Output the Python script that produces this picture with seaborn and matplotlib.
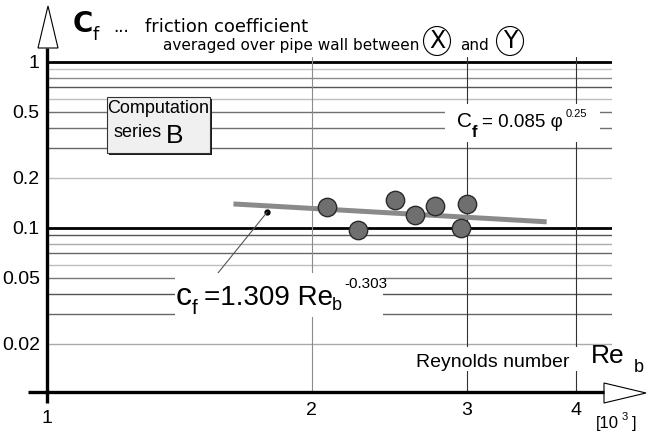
import matplotlib
matplotlib.use("Agg")
import matplotlib.pyplot as plt
import seaborn as sns
import numpy as np
import pandas as pd
from matplotlib.patches import Polygon, Rectangle, Ellipse

# ---------------- data ----------------
re_b = [2.08, 2.26, 2.49, 2.62, 2.76, 3.00, 2.96]          # Re_b [10^3]
cf = [0.134, 0.097, 0.146, 0.119, 0.135, 0.138, 0.100]      # friction coefficient
fit_re = [1.63, 3.70]                                        # fitted line end points
fit_cf = [0.139, 0.1085]
dot_re = [1.78]
dot_cf = [0.124]
ytick_vals = [1, 0.5, 0.2, 0.1, 0.05, 0.02]
ytick_labels = ["1", "0.5", "0.2", "0.1", "0.05", "0.02"]
xtick_vals = [1, 2, 3, 4]
xtick_labels = ["1", "2", "3", "4"]
grid_levels = [1, 0.9, 0.8, 0.7, 0.6, 0.5, 0.4, 0.3, 0.2,
               0.1, 0.09, 0.08, 0.07, 0.06, 0.05, 0.04, 0.03, 0.02]
grid_colors = ["#000000", "#c4c4c4", "#8a8a8a", "#555555", "#bdbdbd", "#707070",
               "#707070", "#666666", "#bdbdbd",
               "#000000", "#555555", "#ababab", "#666666", "#bdbdbd", "#777777",
               "#555555", "#666666", "#aaaaaa"]
vgrid_vals = [2, 3, 4]
vgrid_colors = ["#8c8c8c", "#333333", "#333333"]

df = pd.DataFrame({"Re": re_b, "cf": cf})
fit_df = pd.DataFrame({"Re": fit_re, "cf": fit_cf})

sns.set_style("white")
plt.rcParams["font.family"] = ["Liberation Sans", "DejaVu Sans"]

W, H = 663, 433
fig = plt.figure(figsize=(W / 100, H / 100), dpi=100)
fig.patch.set_facecolor("white")

x0, x1, y0, y1 = 46.8, 612, 57, 392
ax = fig.add_axes([x0 / W, 1 - y1 / H, (x1 - x0) / W, (y1 - y0) / H])
ax.set_xscale("log")
ax.set_yscale("log")
ax.set_xlim(1, 4.39)
ax.set_ylim(0.01024, 1.067)
for s in ax.spines.values():
    s.set_visible(False)
ax.minorticks_off()

# grid lines
for lev, col in zip(grid_levels, grid_colors):
    lw = 2.0 if col == "#000000" else 1.0
    ax.axhline(lev, color=col, lw=lw, zorder=1)
for v, col in zip(vgrid_vals, vgrid_colors):
    ax.axvline(v, color=col, lw=0.8, zorder=1)

# fitted line and data points
sns.lineplot(data=fit_df, x="Re", y="cf", ax=ax, color="#8a8a8a", lw=3.6,
             solid_capstyle="butt", zorder=3)
sns.scatterplot(data=df, x="Re", y="cf", ax=ax, s=175, color="#6f6f6f",
                edgecolor="#2a2a2a", linewidth=1.0, zorder=5)
ax.plot(dot_re, dot_cf, marker="o", ms=3.5, color="black", ls="none", zorder=6)
# leader line from label to dot
ax.plot([1.565, dot_re[0]], [0.0533, dot_cf[0]], color="#555555", lw=0.8, zorder=6)

ax.set_xlabel("")
ax.set_ylabel("")
ax.set_yticks(ytick_vals, labels=ytick_labels)
ax.set_xticks(xtick_vals, labels=xtick_labels)
ax.tick_params(axis="both", length=0, labelsize=14, colors="black")
ax.tick_params(axis="y", pad=5)
ax.tick_params(axis="x", pad=7)
ax.xaxis.get_major_ticks()[0].set_pad(13)

# ---------------- overlay in pixel coordinates ----------------
ov = fig.add_axes([0, 0, 1, 1], zorder=10)
ov.set_xlim(0, W)
ov.set_ylim(H, 0)
ov.axis("off")
ov.patch.set_alpha(0)

# axes with arrows
ov.plot([46.8, 46.8], [403, 48], color="black", lw=2.4, solid_capstyle="butt")
ov.add_patch(Polygon([[38, 48], [58, 48], [48, 6]], closed=True, fc="white", ec="black", lw=0.8))
ov.plot([28, 604], [392, 392], color="black", lw=2.4, solid_capstyle="butt")
ov.add_patch(Polygon([[604, 383], [604, 403], [646, 393]], closed=True, fc="white", ec="black", lw=0.8))

def t(x, y, s, size, **kw):
    kw.setdefault("va", "baseline")
    kw.setdefault("ha", "left")
    return ov.text(x, y, s, fontsize=size, color="black", **kw)

geo = ["DejaVu Sans"]
# title
t(73, 32, "C", 20, fontweight="bold", family=geo)
t(93, 40, "f", 13, family=geo)
t(113, 32, "...", 12, family=geo)
t(145, 32, "friction coefficient", 13, family=geo)
t(163, 50, "averaged over pipe wall between", 11, family=geo)
ov.add_patch(Ellipse((437, 41), 27, 29, fc="white", ec="black", lw=0.8))
t(437, 41, "X", 17, family=geo, ha="center", va="center")
t(460, 50, "and", 11, family=geo)
ov.add_patch(Ellipse((510, 41), 27, 29, fc="white", ec="black", lw=0.8))
t(510, 41, "Y", 17, family=geo, ha="center", va="center")

# Computation series B box
ov.add_patch(Rectangle((109, 99), 103, 56, fc="#1a1a1a", ec="none"))
ov.add_patch(Rectangle((107, 97), 103, 56, fc="#f0f0f0", ec="#333333", lw=0.8))
t(158, 113, "Computation", 13, ha="center")
t(113, 137, "series", 13)
t(166, 143, "B", 19)

# right formula
ov.add_patch(Rectangle((445, 104), 155, 38, fc="white", ec="none"))
t(457, 127, "C", 15)
t(472, 137, "f", 12, fontweight="bold")
t(482, 127, "= 0.085 \u03c6", 13.5)
t(566, 117, "0.25", 8)

# fit formula label
ov.add_patch(Rectangle((175, 273), 208, 44, fc="white", ec="none"))
t(176, 305, "c", 23)
t(192, 314, "f", 15)
t(204, 305, "=1.309 Re", 20)
t(332, 310, "b", 13)
t(344, 288, "-0.303", 11)

# x-axis captions
ov.add_patch(Rectangle((410, 347), 170, 24, fc="white", ec="none"))
t(416, 367, "Reynolds number", 14)
t(591, 363, "Re", 19)
t(634, 372, "b", 13)
t(596, 428, "[10", 12)
t(622, 420, "3", 8)
t(632, 428, "]", 12)

fig.savefig("out.png", dpi=100, facecolor="white")
